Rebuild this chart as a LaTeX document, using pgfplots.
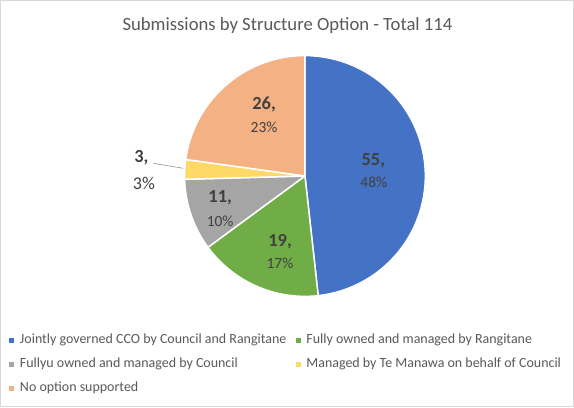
\documentclass[border=0pt]{standalone}
\usepackage{pgfplots}
\pgfplotsset{compat=1.18}
\usepackage{fontspec}
\setmainfont{Carlito}

\definecolor{sliceBlue}{HTML}{4472C4}
\definecolor{sliceGreen}{HTML}{70AD47}
\definecolor{sliceGray}{HTML}{A5A5A5}
\definecolor{sliceYellow}{HTML}{FFD966}
\definecolor{sliceOrange}{HTML}{F4B183}
\definecolor{titleGray}{HTML}{595959}
\definecolor{labelGray}{HTML}{404040}
\definecolor{frameGray}{HTML}{D9D9D9}

% submissions per option (total 114), clockwise from 12 o'clock
\def\vA{55}\def\vB{19}\def\vC{11}\def\vD{3}\def\vE{26}
\pgfmathsetmacro\tot{\vA+\vB+\vC+\vD+\vE}
\pgfmathsetmacro\aO{90}
\pgfmathsetmacro\aA{\aO-\vA/\tot*360}
\pgfmathsetmacro\aB{\aA-\vB/\tot*360}
\pgfmathsetmacro\aC{\aB-\vC/\tot*360}
\pgfmathsetmacro\aD{\aC-\vD/\tot*360}
\pgfmathsetmacro\aE{\aD-\vE/\tot*360}

% pie centre and radius in picture units
\def\cx{305}\def\cy{231.3}\def\rr{120.7}

\newcommand{\slice}[3]{%
  \addplot[fill=#3, draw=white, line width=1.5pt, line join=round,
    domain=#1:#2, samples=60, variable=\t, forget plot]
    ({\cx+\rr*cos(\t)},{\cy+\rr*sin(\t)}) -- (axis cs:\cx,\cy) -- cycle;}

\begin{document}
\begin{tikzpicture}
\begin{axis}[
  width=574pt, height=407pt, scale only axis,
  xmin=0, xmax=574, ymin=0, ymax=407,
  ticks=none,
  axis line style={draw=frameGray, line width=1.5pt},
  clip=false,
  legend columns=2,
  legend cell align=left,
  legend image code/.code={\fill[#1, draw=none] (0pt,-2.5pt) rectangle (5pt,2.5pt);},
  legend style={draw=none, fill=none, anchor=north west,
    inner sep=0pt, outer sep=0pt,
    at={(axis cs:8.5,73.4)},
    font=\fontsize{14}{16}\selectfont, text=titleGray,
    row sep=10.8pt,
    /tikz/every odd column/.append style={column sep=5.8pt},
    /tikz/every even column/.append style={column sep=9.3pt},
    nodes={inner sep=0pt, text height=10pt, text depth=3.5pt}},
]
\slice{\aA}{\aO}{sliceBlue}
\slice{\aB}{\aA}{sliceGreen}
\slice{\aC}{\aB}{sliceGray}
\slice{\aD}{\aC}{sliceYellow}
\slice{\aE}{\aD}{sliceOrange}

\addlegendimage{fill=sliceBlue, draw=none}
\addlegendentry{Jointly governed CCO by Council and Rangitane}
\addlegendimage{fill=sliceGreen, draw=none}
\addlegendentry{Fully owned and managed by Rangitane}
\addlegendimage{fill=sliceGray, draw=none}
\addlegendentry{Fullyu owned and managed by Council}
\addlegendimage{fill=sliceYellow, draw=none}
\addlegendentry{Managed by Te Manawa on behalf of Council}
\addlegendimage{fill=sliceOrange, draw=none}
\addlegendentry{No option supported}

\node[text=titleGray, font=\fontsize{18.7}{22}\selectfont] at (axis cs:287.5,382) {Submissions by Structure Option - Total 114};

\draw[color=sliceGray!90!black, line width=0.6pt] (axis cs:153,244) -- (axis cs:183,239);

\begin{scope}[every node/.style={text=labelGray}]
\node[font=\fontsize{18.5}{22}\bfseries] at (axis cs:373.5,247) {55,};
\node[font=\fontsize{15.5}{18}\selectfont] at (axis cs:374,225) {48\%};
\node[font=\fontsize{18.5}{22}\bfseries] at (axis cs:280,165) {19,};
\node[font=\fontsize{15.5}{18}\selectfont] at (axis cs:280,144) {17\%};
\node[font=\fontsize{18.5}{22}\bfseries] at (axis cs:220,209) {11,};
\node[font=\fontsize{15.5}{18}\selectfont] at (axis cs:220,186) {10\%};
\node[font=\fontsize{18.5}{22}\bfseries] at (axis cs:264,303) {26,};
\node[font=\fontsize{15.5}{18}\selectfont] at (axis cs:264,280) {23\%};
\node[font=\fontsize{18.5}{22}\bfseries] at (axis cs:141,250) {3,};
\node[font=\fontsize{18}{21}\selectfont] at (axis cs:143.5,224) {3\%};
\end{scope}
\end{axis}
\end{tikzpicture}
\end{document}
